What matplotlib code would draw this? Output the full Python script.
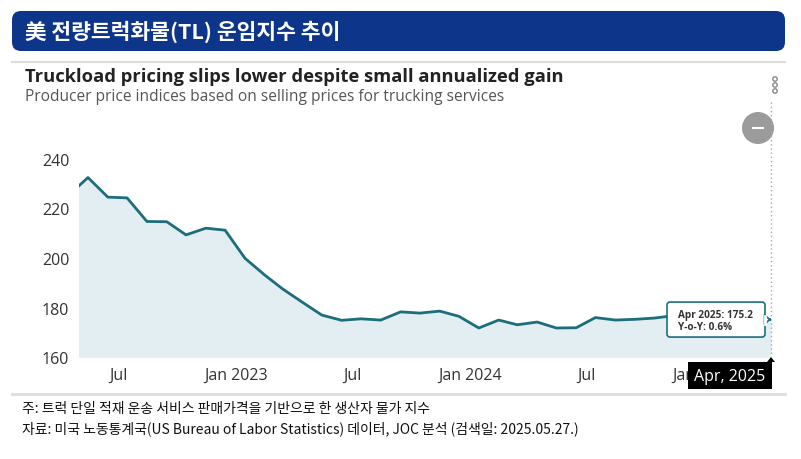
import matplotlib
matplotlib.use("Agg")
import matplotlib.pyplot as plt
import matplotlib.dates as mdates
from matplotlib.patches import FancyBboxPatch, Circle, Polygon
import pandas as pd

# data: monthly truckload PPI, plotted mid-month
months = pd.date_range("2022-04-01", "2025-04-01", freq="MS") + pd.Timedelta(days=14)
ppi = [225.3, 232.4, 224.5, 224.2, 214.7, 214.6, 209.3, 212.0, 211.2,
       199.9, 193.1, 187.5, 182.1, 177.0, 174.9, 175.5, 175.0, 178.3, 177.8, 178.6, 176.5,
       171.8, 175.0, 173.1, 174.2, 171.8, 171.9, 176.0, 175.0, 175.3, 175.8, 176.8, 177.0,
       176.6, 176.0, 175.6, 175.2]
tick_dates = pd.to_datetime(["2022-07-01", "2023-01-01", "2023-07-01",
                             "2024-01-01", "2024-07-01", "2025-01-01"])
tick_labels = ["Jul", "Jan 2023", "Jul", "Jan 2024", "Jul", "Jan 2025"]
y_ticks = [160, 180, 200, 220, 240]
yoy = 0.6

W, H = 801, 460
LINE = "#1c6e7d"
FILL = "#e2eef1"
KR = ["Noto Sans CJK KR", "DejaVu Sans"]
EN = ["Open Sans", "DejaVu Sans"]

fig = plt.figure(figsize=(W / 100, H / 100), dpi=100, facecolor="white")

# main chart
ax = fig.add_axes([79 / W, 1 - 358.3 / H, (771 - 79) / W, (358.3 - 110) / H])
ax.fill_between(months, ppi, y_ticks[0], color=FILL, lw=0)
ax.plot(months, ppi, color=LINE, lw=2.0, solid_joinstyle="round")
ax.set_xlim(pd.Timestamp("2022-05-01"), months[-1])
ax.set_ylim(160, 260)
ax.set_yticks(y_ticks)
ax.set_xticks(tick_dates)
ax.set_xticklabels(tick_labels)
ax.tick_params(length=0, labelsize=11.5, labelcolor="#333333")
ax.tick_params(axis="y", pad=7)
ax.tick_params(axis="x", pad=7)
for lab in ax.get_xticklabels() + ax.get_yticklabels():
    lab.set_family(EN)
for s in ax.spines.values():
    s.set_visible(False)

# overlay in pixel coordinates for decorations
ov = fig.add_axes([0, 0, 1, 1], zorder=5)
ov.set_xlim(0, W)
ov.set_ylim(H, 0)
ov.axis("off")
ov.patch.set_alpha(0)

# header
ov.add_patch(FancyBboxPatch((12, 12), 773, 40, boxstyle="round,pad=0,rounding_size=9",
                            fc="#0d358a", ec="none"))
ov.text(25, 32, "美 전량트럭화물(TL) 운임지수 추이", color="white", fontsize=15.5,
        fontweight="bold", family=KR, va="center")
ov.plot([12, 785], [63, 63], color="#dddddd", lw=1.5)

ov.text(25, 77, "Truckload pricing slips lower despite small annualized gain",
        fontsize=13.2, fontweight="bold", family=EN, color="#222222", va="center")
ov.text(25, 97, "Producer price indices based on selling prices for trucking services",
        fontsize=11.2, family=EN, color="#555555", va="center")
for yy in (80, 86, 92):
    ov.add_patch(Circle((775, yy), 2.2, fc="white", ec="#888888", lw=1))

# zoom-out button
ov.add_patch(Circle((758, 129), 16, fc="#9b9b9b", ec="none"))
ov.plot([753, 763], [129, 129], color="white", lw=1.5)

# anchor of the last point
px, py = ax.transData.transform((mdates.date2num(months[-1]), ppi[-1]))
py = H - py
ov.plot([px, px], [103, 357], color="#aaaaaa", lw=1, ls=(0, (1, 2)))

# tooltip
ov.add_patch(FancyBboxPatch((px - 104, py - 17.5), 98, 35,
                            boxstyle="round,pad=0,rounding_size=3",
                            fc="white", ec=LINE, lw=1.2, zorder=6))
ov.add_patch(Polygon([[px - 6.5, py - 5], [px - 1.5, py], [px - 6.5, py + 5]],
                     closed=True, fc="white", ec=LINE, lw=1.2, zorder=6))
ov.plot([px - 6.5, px - 6.5], [py - 4, py + 4], color="white", lw=2, zorder=7)
ov.text(px - 93, py - 5.5, f"{months[-1]:%b %Y}: {ppi[-1]:.1f}", fontsize=7.2,
        fontweight="bold", family=EN, color="#333333", va="center", zorder=8)
ov.text(px - 93, py + 6.5, f"Y-o-Y: {yoy:.1f}%", fontsize=7.2,
        fontweight="bold", family=EN, color="#333333", va="center", zorder=8)

# crosshair label
ov.add_patch(Polygon([[px - 4, 363], [px, 358], [px + 4, 363]], fc="black", ec="none", zorder=6))
ov.add_patch(FancyBboxPatch((px - 83, 363), 84, 27, boxstyle="square,pad=0",
                            fc="black", ec="none", zorder=6))
ov.text(px - 41, 377, f"{months[-1]:%b, %Y}", fontsize=11.5, family=EN, color="white",
        ha="center", va="center", zorder=7)

# notes
ov.plot([12, 785], [395, 395], color="#dddddd", lw=2)
ov.text(22, 409, "주: 트럭 단일 적재 운송 서비스 판매가격을 기반으로 한 생산자 물가 지수",
        fontsize=10, family=KR, color="#111111", va="center")
ov.text(22, 429, "자료: 미국 노동통계국(US Bureau of Labor Statistics) 데이터, JOC 분석 (검색일: 2025.05.27.)",
        fontsize=10, family=KR, color="#111111", va="center")

fig.savefig("out.png", dpi=100, facecolor="white")
